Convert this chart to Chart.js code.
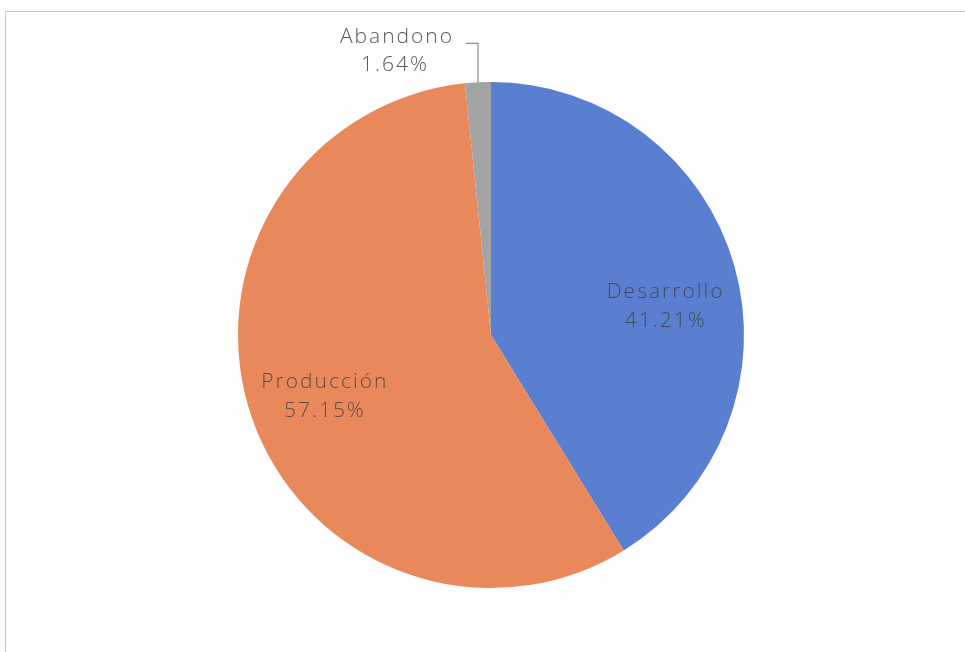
<!DOCTYPE html>
<html>
<head>
<meta charset="utf-8">
<script src="https://cdn.jsdelivr.net/npm/chart.js@4/dist/chart.umd.min.js"></script>
<style>
  html, body { margin: 0; padding: 0; background: #fdfdfd; }
  .frame { position: absolute; left: 5px; top: 11px; width: 970px; height: 660px; border-left: 1px solid #c9c9c9; border-top: 1px solid #c4c4c4; }
  .wrap { position: relative; width: 965px; height: 652px; }
</style>
</head>
<body>
<div class="wrap">
  <div class="frame"></div>
  <canvas id="pieChart" width="965" height="652" style="position:absolute;left:0;top:0;"></canvas>
</div>
<script>
// Data
const categories = ['Desarrollo', 'Producción', 'Abandono'];
const shares = [41.21, 57.15, 1.64];
const sliceColors = ['#5b7fd0', '#e8885b', '#a3a3a3'];

// Label placement: angle shift (deg) for inside labels, null = outside with leader
const labelShift = [6.3, -1.5, null];

const FONT = '"Open Sans", "Noto Sans", sans-serif';

const pieLabels = {
    id: 'pieLabels',
    afterDatasetsDraw(chart) {
        const ctx = chart.ctx;
        const meta = chart.getDatasetMeta(0);
        ctx.save();
        ctx.textAlign = 'center';
        ctx.textBaseline = 'middle';
        ctx.font = '300 21px ' + FONT;
        if ('letterSpacing' in ctx) ctx.letterSpacing = '2px';
        meta.data.forEach((arc, i) => {
            const p = arc.getProps(['x', 'y', 'startAngle', 'endAngle', 'outerRadius'], true);
            const mid = (p.startAngle + p.endAngle) / 2;
            const txt = [categories[i], shares[i].toFixed(2) + '%'];
            if (labelShift[i] !== null) {
                const a = mid + labelShift[i] * Math.PI / 180;
                const r = p.outerRadius * 0.7;
                const lx = p.x + Math.cos(a) * r;
                const ly = p.y + Math.sin(a) * r;
                ctx.fillStyle = 'rgba(60,60,60,0.78)';
                ctx.fillText(txt[0], lx, ly - 14);
                ctx.fillText(txt[1], lx, ly + 15);
            } else {
                // outside label with elbow leader line
                const ex = p.x + Math.cos(mid) * p.outerRadius;
                const ey = p.y + Math.sin(mid) * p.outerRadius;
                const elbowY = ey - 39;
                ctx.strokeStyle = '#8c8c8c';
                ctx.lineWidth = 1.2;
                ctx.beginPath();
                ctx.moveTo(ex, ey);
                ctx.lineTo(ex, elbowY);
                ctx.lineTo(ex - 12, elbowY);
                ctx.stroke();
                const tx = ex - 81;
                ctx.fillStyle = '#5a5a5a';
                ctx.fillText(txt[0], tx, elbowY - 6);
                ctx.fillText(txt[1], tx - 2, elbowY + 22);
            }
        });
        ctx.restore();
    }
};

new Chart(document.getElementById('pieChart').getContext('2d'), {
    type: 'pie',
    data: {
        labels: categories,
        datasets: [{
            data: shares,
            backgroundColor: sliceColors,
            borderWidth: 0
        }]
    },
    options: {
        responsive: false,
        animation: false,
        layout: {
            padding: { top: 82, bottom: 64, left: 238, right: 221 }
        },
        plugins: {
            legend: { display: false },
            tooltip: { enabled: false }
        }
    },
    plugins: [pieLabels]
});
</script>
</body>
</html>
